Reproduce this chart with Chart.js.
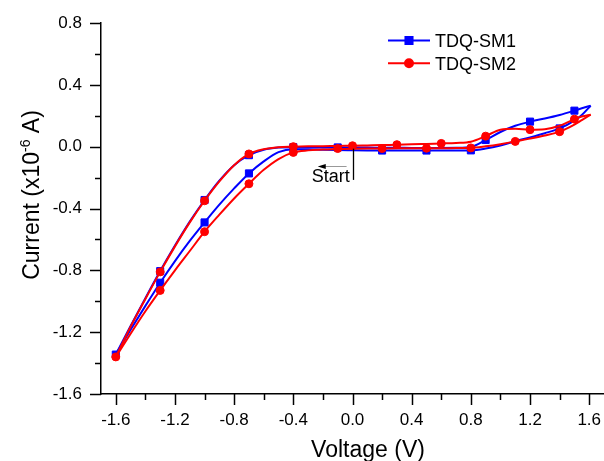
<!DOCTYPE html>
<html>
<head>
<meta charset="utf-8">
<script src="https://cdn.jsdelivr.net/npm/chart.js@4.4.0/dist/chart.umd.min.js"></script>
<style>
  html, body { margin: 0; padding: 0; background: #fff; }
  #wrap { width: 604px; height: 461px; }
</style>
</head>
<body>
<div id="wrap"><canvas id="cvChart" width="604" height="461"></canvas></div>
<script>
// voltage grid shared by the upper and lower branch of each loop (V)
const branchV = [-1.6, -1.5, -1.4, -1.3, -1.2, -1.1, -1.0, -0.9, -0.8, -0.7, -0.6, -0.5,
  -0.4, -0.3, -0.2, -0.1, 0.0, 0.1, 0.2, 0.3, 0.4, 0.5, 0.6, 0.7, 0.8, 0.9, 1.0, 1.1,
  1.2, 1.3, 1.4, 1.5, 1.55, 1.61];

// TDQ-SM1 current (x10^-6 A)
const sm1Upper = [-1.345, -1.16, -0.98, -0.805, -0.64, -0.485, -0.345, -0.22, -0.12, -0.055, -0.02, -0.006,
  -0.003, -0.004, -0.005, -0.005, -0.006, -0.006, -0.007, -0.007, -0.008, -0.008, -0.008, -0.007, -0.002, 0.043, 0.095, 0.135,
  0.162, 0.182, 0.205, 0.233, 0.248, 0.265];
const sm1Lower = [-1.345, -1.185, -1.03, -0.88, -0.74, -0.61, -0.49, -0.375, -0.27, -0.173, -0.095, -0.035,
  -0.016, -0.017, -0.02, -0.022, -0.023, -0.024, -0.025, -0.025, -0.025, -0.025, -0.025, -0.025, -0.024, -0.012, 0.008, 0.035,
  0.06, 0.087, 0.118, 0.168, 0.205, 0.265];

// TDQ-SM2 current (x10^-6 A)
const sm2Upper = [-1.36, -1.165, -0.985, -0.81, -0.645, -0.49, -0.35, -0.225, -0.12, -0.047, -0.016, -0.003,
  0.0, 0.002, 0.003, 0.005, 0.006, 0.008, 0.01, 0.013, 0.015, 0.018, 0.021, 0.024, 0.032, 0.068, 0.11, 0.116,
  0.11, 0.113, 0.135, 0.178, 0.195, 0.207];
const sm2Lower = [-1.36, -1.21, -1.065, -0.93, -0.8, -0.675, -0.55, -0.44, -0.335, -0.24, -0.15, -0.08,
  -0.037, -0.024, -0.019, -0.015, -0.013, -0.012, -0.012, -0.011, -0.011, -0.01, -0.01, -0.009, -0.008, 0.002, 0.016, 0.034,
  0.052, 0.072, 0.097, 0.143, 0.172, 0.207];

// symbol positions along the loops
const sm1MarkV = [-1.6, -1.3, -1.3, -1.0, -1.0, -0.7, -0.7, -0.4, -0.1, 0.2, 0.5, 0.8, 0.9, 1.2, 1.4, 1.5];
const sm1MarkI = [-1.345, -0.88, -0.805, -0.49, -0.345, -0.173, -0.055, -0.003, -0.005, -0.025, -0.025, -0.024, 0.043, 0.162, 0.118, 0.233];
const sm2MarkV = [-1.6, -1.3, -1.3, -1.0, -1.0, -0.7, -0.7, -0.4, -0.4, -0.1, 0.0, 0.2, 0.3, 0.5, 0.6, 0.8, 0.9, 1.1, 1.2, 1.4, 1.5];
const sm2MarkI = [-1.36, -0.81, -0.93, -0.35, -0.55, -0.047, -0.24, 0.0, -0.037, -0.012, 0.006, -0.012, 0.013, -0.01, 0.021, -0.008, 0.068, 0.034, 0.11, 0.097, 0.178];

// axis ticks
const xTicks = [-1.6, -1.2, -0.8, -0.4, 0.0, 0.4, 0.8, 1.2, 1.6];
const xMinor = [-1.4, -1.0, -0.6, -0.2, 0.2, 0.6, 1.0, 1.4];
const yTicks = [-1.6, -1.2, -0.8, -0.4, 0.0, 0.4, 0.8];
const yMinor = [-1.4, -1.0, -0.6, -0.2, 0.2, 0.6];

const seriesNames = ['TDQ-SM1', 'TDQ-SM2'];
const seriesColors = ['#0000ff', '#ff0000'];

const FONT = 'Arial, "Liberation Sans", sans-serif';
Chart.defaults.font.family = FONT;
Chart.defaults.color = '#000';

const toPts = (xs, ys) => xs.map((v, i) => ({ x: v, y: ys[i] }));

function branch(vals, color, order) {
  return {
    data: toPts(branchV, vals),
    showLine: true,
    borderColor: color,
    borderWidth: 2,
    pointRadius: 0,
    cubicInterpolationMode: 'monotone',
    order: order
  };
}

function symbols(vs, is, color, style, r, order) {
  return {
    data: toPts(vs, is),
    showLine: false,
    pointStyle: style,
    pointRadius: r,
    backgroundColor: color,
    borderColor: color,
    borderWidth: 1,
    order: order
  };
}

// the label padding would otherwise shrink the plot area
function noScalePadding(a) {
  a.paddingTop = 0;
  a.paddingBottom = 0;
  a.paddingLeft = 0;
  a.paddingRight = 0;
}

// ticks, legend, axis titles and the "Start" note
const decor = {
  id: 'decor',
  afterDraw(chart) {
    const ctx = chart.ctx;
    const xs = chart.scales.x;
    const ys = chart.scales.y;
    ctx.save();
    ctx.strokeStyle = '#000';
    ctx.lineWidth = 1.5;

    const xMark = (v, len) => {
      const px = Math.round(xs.getPixelForValue(v)) + 0.5;
      ctx.beginPath();
      ctx.moveTo(px, xs.top);
      ctx.lineTo(px, xs.top + len);
      ctx.stroke();
    };
    const yMark = (v, len) => {
      const py = Math.round(ys.getPixelForValue(v)) + 0.5;
      ctx.beginPath();
      ctx.moveTo(ys.right, py);
      ctx.lineTo(ys.right - len, py);
      ctx.stroke();
    };
    xTicks.forEach(v => xMark(v, 11));
    xMinor.forEach(v => xMark(v, 6));
    yTicks.forEach(v => yMark(v, 11));
    yMinor.forEach(v => yMark(v, 6));

    // legend
    const styles = [{ pointStyle: 'rect', radius: 5 }, { pointStyle: 'circle', radius: 4 }];
    seriesNames.forEach((name, i) => {
      const y = 40.5 + i * 22.7;
      ctx.strokeStyle = seriesColors[i];
      ctx.fillStyle = seriesColors[i];
      ctx.lineWidth = 2;
      ctx.beginPath();
      ctx.moveTo(388, y);
      ctx.lineTo(430, y);
      ctx.stroke();
      Chart.helpers.drawPoint(ctx, { pointStyle: styles[i].pointStyle, radius: styles[i].radius, borderWidth: 1, rotation: 0 }, 409, y);
      ctx.fillStyle = '#000';
      ctx.font = '18px ' + FONT;
      ctx.textAlign = 'left';
      ctx.textBaseline = 'alphabetic';
      ctx.fillText(name, 435, y + 6.5);
    });

    // sweep start marker with arrow
    const x0 = Math.round(xs.getPixelForValue(0)) + 0.5;
    ctx.strokeStyle = '#000';
    ctx.lineWidth = 1.3;
    ctx.beginPath();
    ctx.moveTo(x0, ys.getPixelForValue(-0.013));
    ctx.lineTo(x0, ys.getPixelForValue(-0.215));
    ctx.stroke();
    const ay = Math.round(ys.getPixelForValue(-0.128)) + 0.5;
    const ax1 = xs.getPixelForValue(-0.04);
    const ax0 = xs.getPixelForValue(-0.235);
    ctx.strokeStyle = '#999';
    ctx.lineWidth = 1;
    ctx.beginPath();
    ctx.moveTo(ax0 + 6, ay);
    ctx.lineTo(ax1, ay);
    ctx.stroke();
    ctx.fillStyle = '#000';
    ctx.beginPath();
    ctx.moveTo(ax0, ay);
    ctx.lineTo(ax0 + 8, ay - 2.5);
    ctx.lineTo(ax0 + 8, ay + 2.5);
    ctx.closePath();
    ctx.fill();
    ctx.font = '18px ' + FONT;
    ctx.textAlign = 'left';
    ctx.fillText('Start', xs.getPixelForValue(-0.275), ys.getPixelForValue(-0.229));

    // axis titles
    ctx.font = '23px ' + FONT;
    ctx.textAlign = 'center';
    ctx.fillText('Voltage (V)', 368, 456.5);

    const p1 = 'Current (x10', p2 = '-6', p3 = ' A)';
    ctx.font = '23px ' + FONT;
    const w1 = ctx.measureText(p1).width;
    const w3 = ctx.measureText(p3).width;
    ctx.font = '14px ' + FONT;
    const w2 = ctx.measureText(p2).width;
    const total = w1 + w2 + w3;
    ctx.translate(38.5, 195);
    ctx.rotate(-Math.PI / 2);
    ctx.textAlign = 'left';
    let cx = -total / 2;
    ctx.font = '23px ' + FONT;
    ctx.fillText(p1, cx, 0);
    cx += w1;
    ctx.font = '14px ' + FONT;
    ctx.fillText(p2, cx, -9);
    cx += w2;
    ctx.font = '23px ' + FONT;
    ctx.fillText(p3, cx, 0);
    ctx.restore();
  }
};

const ctx = document.getElementById('cvChart');
new Chart(ctx, {
  type: 'scatter',
  data: {
    datasets: [
      symbols(sm2MarkV, sm2MarkI, seriesColors[1], 'circle', 4, 0),
      branch(sm2Upper, seriesColors[1], 1),
      branch(sm2Lower, seriesColors[1], 1),
      symbols(sm1MarkV, sm1MarkI, seriesColors[0], 'rect', 5, 2),
      branch(sm1Upper, seriesColors[0], 3),
      branch(sm1Lower, seriesColors[0], 3)
    ]
  },
  options: {
    responsive: false,
    animation: false,
    events: [],
    layout: { autoPadding: false, padding: { top: 23, left: 0, right: 0, bottom: 0 } },
    plugins: {
      legend: { display: false },
      tooltip: { enabled: false }
    },
    scales: {
      x: {
        type: 'linear',
        min: -1.7,
        max: 1.7,
        afterBuildTicks: a => { a.ticks = xTicks.map(v => ({ value: v })); },
        afterFit: a => { a.height = 67; noScalePadding(a); },
        grid: { display: false, drawTicks: false },
        border: { display: true, color: '#000', width: 1.5 },
        ticks: {
          padding: 16,
          autoSkip: false,
          maxRotation: 0,
          font: { size: 17 },
          color: '#000',
          callback: v => v.toFixed(1)
        }
      },
      y: {
        type: 'linear',
        min: -1.6,
        max: 0.8,
        afterBuildTicks: a => { a.ticks = yTicks.map(v => ({ value: v })); },
        afterFit: a => { a.width = 101; noScalePadding(a); },
        grid: { display: false, drawTicks: false },
        border: { display: true, color: '#000', width: 1.5 },
        ticks: {
          padding: 19,
          autoSkip: false,
          font: { size: 17 },
          color: '#000',
          callback: v => v.toFixed(1)
        }
      }
    }
  },
  plugins: [decor]
});
</script>
</body>
</html>
